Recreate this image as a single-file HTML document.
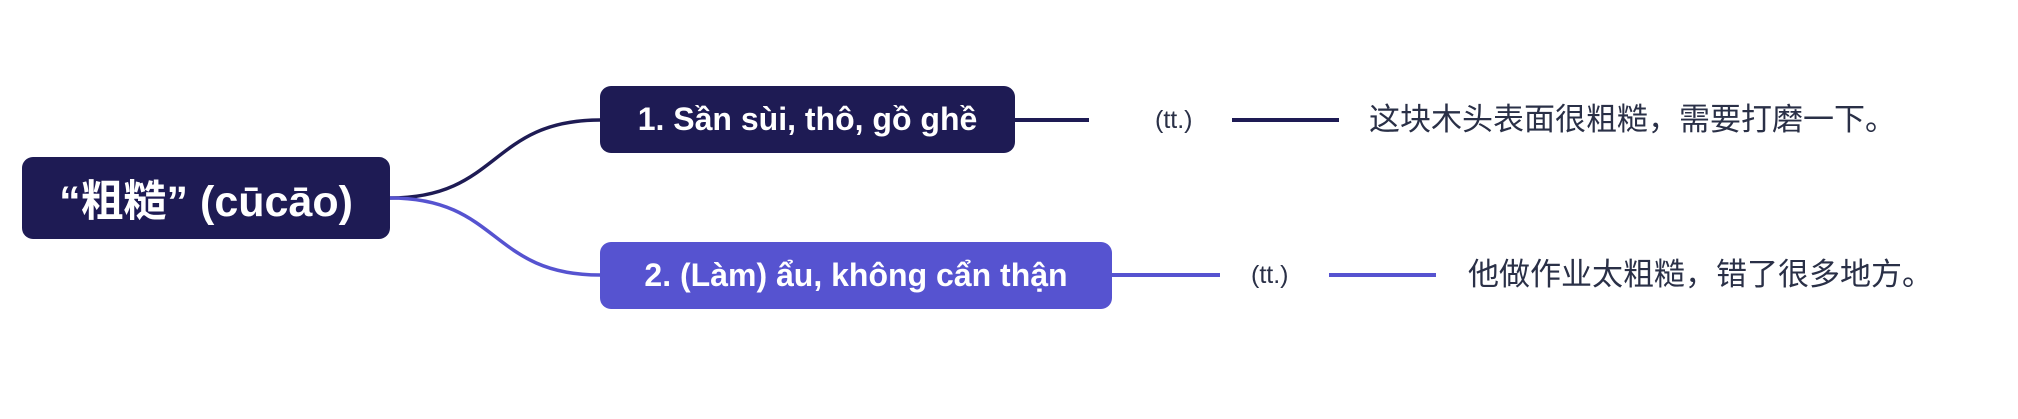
<!DOCTYPE html>
<html><head><meta charset="utf-8"><style>
body{margin:0;width:2018px;height:419px;background:#fff;position:relative;overflow:hidden;font-family:"Liberation Sans","Noto Sans CJK SC",sans-serif}
.n{position:absolute;color:#fff;font-weight:bold;display:flex;align-items:center;justify-content:center;border-radius:11px;white-space:nowrap}
.t{position:absolute;white-space:nowrap;color:#2a3047;font-size:31px;line-height:40px}
</style></head><body>
<svg width="2018" height="419" style="position:absolute;left:0;top:0">
<path d="M390 198 C 500 198, 490 120, 600 120" stroke="#1e1b54" stroke-width="3.5" fill="none"/>
<path d="M390 198 C 500 198, 490 275, 600 275" stroke="#5653d0" stroke-width="3.5" fill="none"/>
<line x1="1015" y1="120" x2="1089" y2="120" stroke="#1e1b54" stroke-width="4"/>
<line x1="1232" y1="120" x2="1339" y2="120" stroke="#1e1b54" stroke-width="4"/>
<line x1="1112" y1="275" x2="1220" y2="275" stroke="#5653d0" stroke-width="4"/>
<line x1="1329" y1="275" x2="1436" y2="275" stroke="#5653d0" stroke-width="4"/>
</svg>
<div class="n" style="left:22px;top:157px;width:368px;height:82px;background:#1e1b54;font-size:43px">“粗糙” (cūcāo)</div>
<div class="n" style="left:600px;top:86px;width:415px;height:67px;background:#1e1b54;font-size:32px">1. Sần sùi, thô, gồ ghề</div>
<div class="n" style="left:600px;top:242px;width:512px;height:67px;background:#5653d0;font-size:32px">2. (Làm) ẩu, không cẩn thận</div>
<div class="t" style="left:1155px;top:100px;font-size:25px">(tt.)</div>
<div class="t" style="left:1369px;top:100px">这块木头表面很粗糙，需要打磨一下。</div>
<div class="t" style="left:1251px;top:255px;font-size:25px">(tt.)</div>
<div class="t" style="left:1468px;top:255px">他做作业太粗糙，错了很多地方。</div>
</body></html>
